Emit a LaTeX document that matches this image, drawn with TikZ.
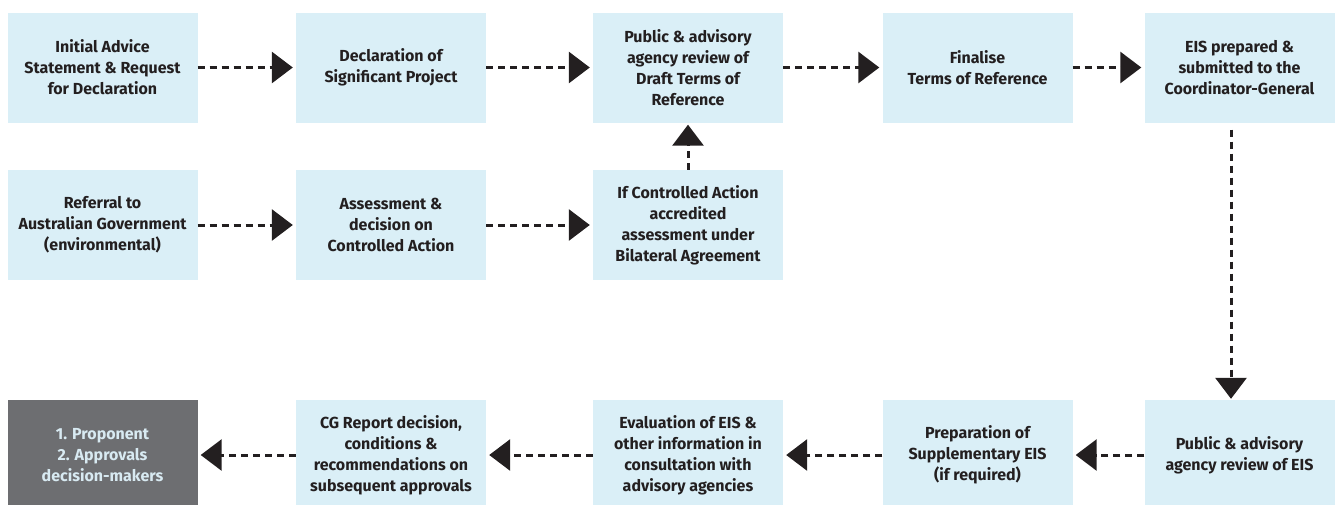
\documentclass[tikz,border=0pt]{standalone}
\usepackage{fontspec}
\setmainfont{Fira Sans}
\usetikzlibrary{arrows.meta}
\definecolor{boxfill}{HTML}{DAEFF7}
\definecolor{txt}{HTML}{231F20}
\definecolor{grayfill}{HTML}{6D6E71}
\definecolor{graytxt}{HTML}{D8EAF2}
\tikzset{
  stepbox/.style={fill=boxfill, text=txt, minimum width=190pt, minimum height=110pt,
    inner sep=0pt, align=center, font=\bfseries\fontsize{16}{21}\selectfont},
  endbox/.style={stepbox, fill=grayfill, text=graytxt},
  flow/.style={draw=txt, line width=3pt, dash pattern=on 7pt off 5pt,
    -{Triangle[length=21pt,width=31pt]}, shorten >=3pt}
}
\begin{document}
\begin{tikzpicture}[x=1pt,y=-1pt]
\useasboundingbox (0,0) rectangle (1336,504);
% row 1
\node[stepbox] (a1) at (102.5,67.5) {Initial Advice\\Statement \& Request\\for Declaration};
\node[stepbox] (a2) at (391,67.5) {Declaration of\\Significant Project};
\node[stepbox] (a3) at (688,67.5) {Public \& advisory\\agency review of\\Draft Terms of\\Reference};
\node[stepbox] (a4) at (977.5,67.5) {Finalise\\Terms of Reference};
\node[stepbox] (a5) at (1239.5,67.5) {EIS prepared \&\\submitted to the\\Coordinator-General};
% row 2
\node[stepbox] (b1) at (102.5,225) {Referral to\\Australian Government\\(environmental)};
\node[stepbox] (b2) at (391,225) {Assessment \&\\decision on\\Controlled Action};
\node[stepbox] (b3) at (688,225) {If Controlled Action\\accredited\\assessment under\\Bilateral Agreement};
% row 3 (boxes run off the bottom edge, as in the reference)
\node[endbox] (c1) at (102.5,455) {1. Proponent\\2. Approvals\\decision-makers};
\node[stepbox] (c2) at (391,455) {CG Report decision,\\conditions \&\\recommendations on\\subsequent approvals};
\node[stepbox] (c3) at (688,455) {Evaluation of EIS \&\\other information in\\consultation with\\advisory agencies};
\node[stepbox] (c4) at (977.5,455) {Preparation of\\Supplementary EIS\\(if required)};
\node[stepbox] (c5) at (1239.5,455) {Public \& advisory\\agency review of EIS};
% connectors
\draw[flow] (a1.east) -- (a2.west);
\draw[flow] (a2.east) -- (a3.west);
\draw[flow] (a3.east) -- (a4.west);
\draw[flow] (a4.east) -- (a5.west);
\draw[flow] (b1.east) -- (b2.west);
\draw[flow] (b2.east) -- (b3.west);
\draw[flow, shorten >=2pt] (b3.north) -- (a3.south);
\draw[flow, shorten <=7pt, shorten >=1pt] ([xshift=-8.5pt]a5.south) -- ([xshift=-8.5pt]c5.north);
\draw[flow] (c5.west) -- (c4.east);
\draw[flow] (c4.west) -- (c3.east);
\draw[flow] (c3.west) -- (c2.east);
\draw[flow] (c2.west) -- (c1.east);
\end{tikzpicture}
\end{document}
